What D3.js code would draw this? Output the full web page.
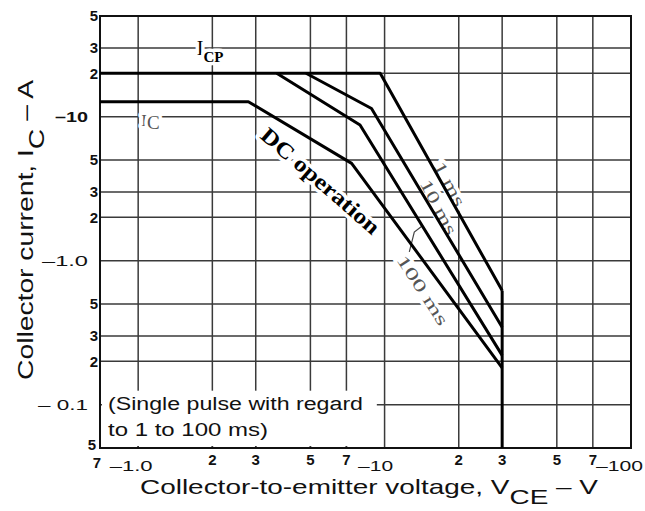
<!DOCTYPE html>
<html>
<head>
<meta charset="utf-8">
<script src="https://cdn.jsdelivr.net/npm/d3@7"></script>
<style>
  body { margin: 0; background: #fff; }
  svg { display: block; }
  .tick-lab { font-family: "Liberation Sans", Arial, sans-serif; font-size: 15px; fill: #111; }
  .title { font-family: "Liberation Sans", Arial, sans-serif; font-size: 21px; fill: #111; }
  .serif { font-family: "Liberation Serif", "Times New Roman", serif; }
  .halo { stroke: #fff; stroke-width: 7px; paint-order: stroke; stroke-linejoin: round; }
</style>
</head>
<body>
<svg id="soa" width="645" height="511"></svg>
<script>
// axis values (magnitudes, the sheet prints them negative)
const xGrid = [1, 2, 3, 5, 7, 10, 20, 30, 50, 70];
const yGrid = [0.1, 0.2, 0.3, 0.5, 1, 2, 3, 5, 10, 20, 30];
const xTickVals = [0.7, 1, 2, 3, 5, 7, 10, 20, 30, 50, 70, 100];
const xTickText = ["7", "–1.0", "2", "3", "5", "7", "–10", "2", "3", "5", "7", "–100"];
const yTickVals = [0.05, 0.1, 0.2, 0.3, 0.5, 1, 2, 3, 5, 10, 20, 30, 50];
const yTickText = ["5", "– 0.1", "2", "3", "5", "–1.0", "2", "3", "5", "–10", "2", "3", "5"];

// SOA boundaries, [VCE, IC]
const pulse1ms = [[0.7, 20], [9.6, 20], [30, 0.62]];
const pulse10ms = [[4.8, 20], [8.85, 11.4], [30, 0.345]];
const pulse100ms = [[3.65, 20], [7.95, 8.75], [30, 0.22]];
const dcOperation = [[0.7, 12.7], [2.8, 12.7], [7.35, 4.74], [30, 0.18]];
const vceoLimit = [[30, 0.62], [30, 0.05]];

const svg = d3.select("#soa");
const mLeft = 100, mRight = 631, mTop = 16, mBottom = 448;

const x = d3.scaleLog().domain([0.7, 100]).range([mLeft, mRight]);
const y = d3.scaleLog().domain([0.05, 50]).range([mBottom, mTop]);

// grid
const grid = svg.append("g").attr("stroke", "#3a3a3a").attr("stroke-width", 1.5);
grid.selectAll(".vg").data(xGrid).enter().append("line")
    .attr("x1", d => x(d)).attr("x2", d => x(d))
    .attr("y1", mTop).attr("y2", mBottom);
grid.selectAll(".hg").data(yGrid).enter().append("line")
    .attr("x1", mLeft).attr("x2", mRight)
    .attr("y1", d => y(d)).attr("y2", d => y(d));

// note box covers the grid in the lower left
svg.append("rect")
    .attr("x", mLeft + 2).attr("y", y(0.125))
    .attr("width", x(9.3) - mLeft - 2).attr("height", mBottom - 2 - y(0.125))
    .attr("fill", "#fff");
// short ticks left at the bottom edge
grid.selectAll(".bt").data(xGrid.filter(d => d < 10)).enter().append("line")
    .attr("x1", d => x(d)).attr("x2", d => x(d))
    .attr("y1", mBottom - 6).attr("y2", mBottom);

svg.append("g").attr("class", "tick-lab")
    .selectAll("text").data(["(Single pulse with regard", "to 1 to 100 ms)"]).enter()
    .append("text")
    .attr("x", mLeft + 8)
    .attr("y", (d, i) => y(0.1) + 5 + i * 26)
    .attr("textLength", (d, i) => i ? 160 : 255)
    .attr("lengthAdjust", "spacingAndGlyphs")
    .style("font-size", "18px")
    .text(d => d);

// frame
svg.append("rect")
    .attr("x", mLeft).attr("y", mTop)
    .attr("width", mRight - mLeft).attr("height", mBottom - mTop)
    .attr("fill", "none").attr("stroke", "#111").attr("stroke-width", 2);

// curve labels (under the curves, their halo breaks the grid)
const icp = svg.append("text").attr("class", "serif halo")
    .attr("x", x(1.73)).attr("y", y(26.8));
icp.append("tspan").style("font-size", "20px").text("I");
icp.append("tspan").attr("dy", 7).style("font-size", "15px").style("font-weight", "bold").text("CP");

const ic = svg.append("text").attr("class", "serif halo")
    .attr("x", x(1.03)).attr("y", y(8.6)).attr("fill", "#555");
ic.append("tspan").style("font-size", "17px").text("I");
ic.append("tspan").attr("dy", 3).style("font-size", "19px").text("C");

const curveLabels = [
    {text: "1 ms", v: 18.4, i: 3.41, angle: 62, len: 48, bold: false},
    {text: "10 ms", v: 16.6, i: 2.36, angle: 62, len: 60, bold: false},
    {text: "100 ms", v: 14.3, i: 0.625, angle: 57, len: 80, bold: false},
    {text: "DC operation", v: 5.5, i: 3.6, angle: 41, len: 150, bold: true}
];
svg.append("g").selectAll("text").data(curveLabels).enter().append("text")
    .attr("class", "serif halo")
    .attr("transform", d => `translate(${x(d.v)},${y(d.i)}) rotate(${d.angle})`)
    .attr("text-anchor", "middle")
    .attr("dy", "0.35em")
    .attr("textLength", d => d.len)
    .attr("lengthAdjust", "spacingAndGlyphs")
    .attr("fill", d => d.bold ? "#000" : "#555")
    .style("font-size", d => d.bold ? "22px" : "17px")
    .style("font-weight", d => d.bold ? "bold" : "normal")
    .text(d => d.text);

// leader from "100 ms" to its curve
const leader = [[12.6, 1.15], [13.2, 1.58], [14.2, 1.74]];
svg.append("path")
    .attr("d", d3.line().x(d => x(d[0])).y(d => y(d[1]))(leader))
    .attr("fill", "none").attr("stroke", "#444").attr("stroke-width", 1.2);

// curves
const line = d3.line().x(d => x(d[0])).y(d => y(d[1]));
svg.append("g")
    .selectAll("path")
    .data([pulse1ms, pulse10ms, pulse100ms, dcOperation, vceoLimit])
    .enter().append("path")
    .attr("d", line)
    .attr("fill", "none")
    .attr("stroke", "#000")
    .attr("stroke-width", 3)
    .attr("stroke-linejoin", "round");

// tick labels
const yLabLen = {"–10": 33, "–1.0": 46, "– 0.1": 50};
svg.append("g").attr("class", "tick-lab")
    .selectAll("text").data(yTickVals).enter().append("text")
    .attr("x", (d, i) => yTickText[i].length > 1 ? mLeft - 12 : mLeft - (d === 0.05 ? 4 : 2))
    .attr("y", d => y(d) - (d === 0.05 ? 3 : 0))
    .attr("dy", "0.35em")
    .attr("text-anchor", "end")
    .attr("textLength", (d, i) => yLabLen[yTickText[i]] || null)
    .attr("lengthAdjust", "spacingAndGlyphs")
    .style("font-weight", (d, i) => yTickText[i].length > 1 && d !== 10 ? "normal" : "bold")
    .text((d, i) => yTickText[i]);

const xLabShift = {"7": -3, "–1.0": -7, "–10": -9, "–100": -11.5};
const xLabLen = {"–1.0": 43, "–10": 35, "–100": 47};
svg.append("g").attr("class", "tick-lab")
    .selectAll("text").data(xTickVals).enter().append("text")
    .attr("x", (d, i) => x(d) + (d === 0.7 || xTickText[i].length > 1 ? xLabShift[xTickText[i]] : 0))
    .attr("y", (d, i) => xTickText[i].length > 1 ? mBottom + 23 : mBottom + (d === 0.7 ? 20 : 17))
    .attr("text-anchor", "middle")
    .attr("textLength", (d, i) => xLabLen[xTickText[i]] || null)
    .attr("lengthAdjust", "spacingAndGlyphs")
    .style("font-weight", (d, i) => xTickText[i].length > 1 ? "normal" : "bold")
    .text((d, i) => xTickText[i]);

// axis titles
const xt = svg.append("text").attr("class", "title")
    .attr("x", 140).attr("y", 494)
    .attr("textLength", 458)
    .attr("lengthAdjust", "spacingAndGlyphs");
xt.append("tspan").text("Collector-to-emitter voltage, V");
xt.append("tspan").attr("dy", 10).text("CE");
xt.append("tspan").attr("dy", -10).text(" – V");

const yt = svg.append("text").attr("class", "title")
    .attr("transform", "translate(33,380) rotate(-90)")
    .attr("textLength", 300)
    .attr("lengthAdjust", "spacingAndGlyphs")
    .style("font-size", "22px");
yt.append("tspan").text("Collector current, I");
yt.append("tspan").attr("dy", 11).text("C");
yt.append("tspan").attr("dy", -11).text(" – A");
</script>
</body>
</html>
